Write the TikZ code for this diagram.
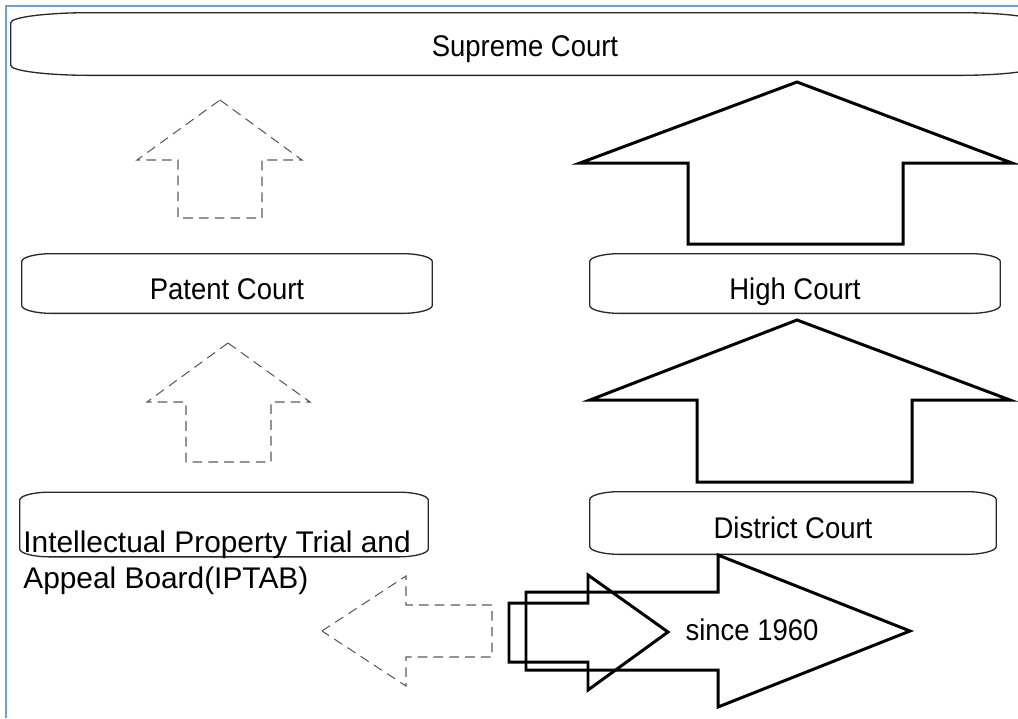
\documentclass[tikz,border=0pt]{standalone}
\usepackage{fontspec}
\setmainfont{Liberation Sans}
\newfontfamily\courtfont{Liberation Sans}[FakeStretch=0.92]
\usepackage{xcolor}
\usepackage{tikz}
\usetikzlibrary{calc}
\definecolor{frameBlue}{RGB}{110,160,215}
\definecolor{inkDark}{RGB}{40,40,40}
\definecolor{inkDash}{RGB}{90,90,90}

% outline with flat elliptic ends round a court node
\newcommand{\courtoutline}[3]{%
  \draw[courtline]
    ([yshift=-#3]#1.north west)
      .. controls ([yshift=-0.45*#3]#1.north west) and ([xshift=0.45*#2]#1.north west) .. ([xshift=#2]#1.north west)
    -- ([xshift=-#2]#1.north east)
      .. controls ([xshift=-0.45*#2]#1.north east) and ([yshift=-0.45*#3]#1.north east) .. ([yshift=-#3]#1.north east)
    -- ([yshift=#3]#1.south east)
      .. controls ([yshift=0.45*#3]#1.south east) and ([xshift=-0.45*#2]#1.south east) .. ([xshift=-#2]#1.south east)
    -- ([xshift=#2]#1.south west)
      .. controls ([xshift=0.45*#2]#1.south west) and ([yshift=0.45*#3]#1.south west) .. ([yshift=#3]#1.south west)
    -- cycle;}

\begin{document}
\begin{tikzpicture}[
    x=0.02cm, y=-0.02cm,
    font=\courtfont\fontsize{17}{20}\selectfont,
    court/.style={
      inner sep=0pt,
      align=center,
      text height=18pt,
      text depth=0.2pt,
      minimum width=8.2cm,
      minimum height=1.18cm
    },
    courtline/.style={draw=inkDark, line width=0.75pt},
    bigarrow/.style={draw=black, line width=1.7pt, line join=miter},
    dasharrow/.style={draw=inkDash, line width=0.6pt, dash pattern=on 5.5pt off 3.5pt}
  ]
    \useasboundingbox (0,0) rectangle (1018,718);
    \clip (0,0) rectangle (1018,718);

    % page frame
    \draw[frameBlue, line width=1.2pt] (6,718) -- (6,6) -- (1018,6);

    % courts
    \node[court, minimum width=20.56cm, minimum height=1.24cm,
      text height=14.6pt] (supreme) at (525,44) {Supreme Court};
    \node[court] (patent) at (227,283.5) {Patent Court};
    \node[court] (high) at (795,283.5) {High Court};
    \node[court, minimum width=8.16cm, minimum height=1.28cm] (iptab) at (224,524.5) {};
    \node[court, minimum width=8.12cm, minimum height=1.24cm] (district) at (793,523) {District Court};

    \courtoutline{supreme}{1.6cm}{0.2cm}
    \courtoutline{patent}{0.6cm}{0.16cm}
    \courtoutline{high}{0.6cm}{0.16cm}
    \courtoutline{iptab}{0.6cm}{0.16cm}
    \courtoutline{district}{0.6cm}{0.16cm}

    \node[anchor=north west, inner sep=0pt, align=left,
      font=\rmfamily\fontsize{17}{21}\selectfont] (iptablabel) at (23,530)
      {Intellectual Property Trial and\\Appeal Board(IPTAB)};

    % appeals to the upper courts
    \draw[dasharrow] (220,100) -- (302,160) -- (262,160) -- (262,218)
      -- (178,218) -- (178,160) -- (137,160) -- cycle;
    \draw[bigarrow] (797,82) -- (1012,163) -- (903,163) -- (903,244)
      -- (688,244) -- (688,163) -- (580,163) -- cycle;
    \draw[dasharrow] (228,343) -- (310,402) -- (271,402) -- (271,462)
      -- (186,462) -- (186,402) -- (147,402) -- cycle;
    \draw[bigarrow] (797,320) -- (1010,400) -- (912,400) -- (912,482)
      -- (697,482) -- (697,400) -- (590,400) -- cycle;

    % sideways arrows
    \draw[dasharrow] (322,631) -- (406,576) -- (406,605) -- (492,605)
      -- (492,657) -- (406,657) -- (406,686) -- cycle;
    \draw[bigarrow] (668,632) -- (588,690) -- (588,662) -- (509,662)
      -- (509,603) -- (588,603) -- (588,575) -- cycle;
    \draw[bigarrow] (910,631) -- (718,707) -- (718,670) -- (526,670)
      -- (526,592) -- (718,592) -- (718,555) -- cycle;

    \node[anchor=base, inner sep=0pt] (since) at (752,640) {since 1960};
  \end{tikzpicture}
\end{document}
